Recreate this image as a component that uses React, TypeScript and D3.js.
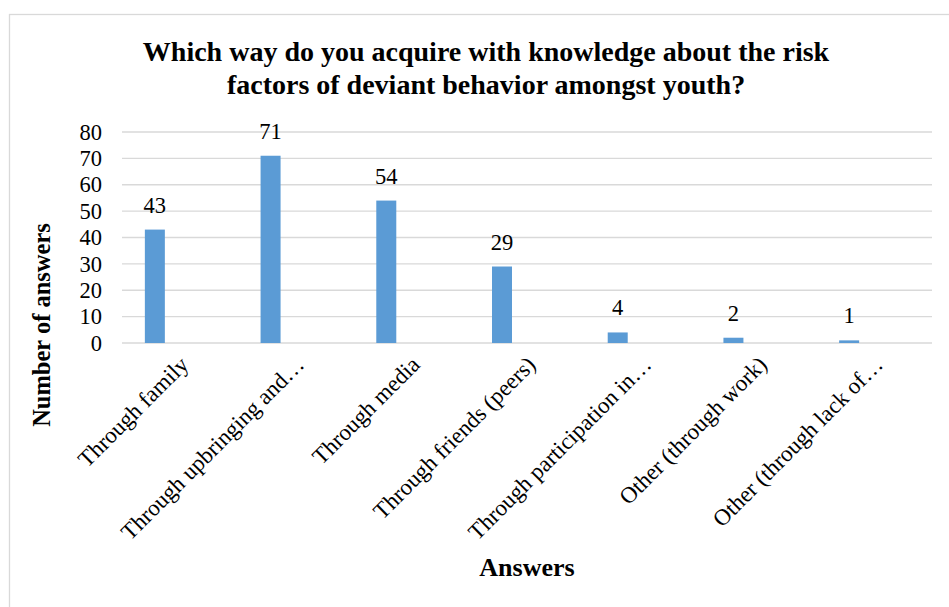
import React from "react";
import * as d3 from "d3";

const categories = [
  "Through family",
  "Through upbringing and…",
  "Through media",
  "Through friends (peers)",
  "Through participation in…",
  "Other (through work)",
  "Other (through lack of…",
];
const values = [43, 71, 54, 29, 4, 2, 1];
const yTicks = [0, 10, 20, 30, 40, 50, 60, 70, 80];
const titleLines = [
  "Which way do you acquire with knowledge about the risk",
  "factors of deviant behavior amongst youth?",
];

const W = 949;
const H = 607;
const plot = { left: 122, right: 932, top: 132, bottom: 343 };
const FONT = "Liberation Serif, Times New Roman, serif";

function T({ x, y, children, anchor = "middle", size, weight = "normal", rot = 0, dy = "0" }: any) {
  return (
    <text
      transform={`translate(${x},${y})${rot ? ` rotate(${rot})` : ""}`}
      textAnchor={anchor}
      dy={dy}
      fontFamily={FONT}
      fontWeight={weight}
      fontSize={size}
      fill="#000"
    >
      {children}
    </text>
  );
}

export default function App() {
  const x = d3
    .scaleBand<string>()
    .domain(categories)
    .range([plot.left, plot.right])
    .padding(0);
  const y = d3.scaleLinear().domain([0, 80]).range([plot.bottom, plot.top]);
  const barW = 20;
  const offset = -25;

  return (
    <svg
      width={W}
      height={H}
      style={{ position: "absolute", left: 0, top: 0, background: "#fff" }}
    >
      <rect x={9.5} y={14.5} width={W} height={H} fill="#fff" stroke="#d9d9d9" strokeWidth={1.3} />
      {titleLines.map((t, i) => (
        <T key={i} x={486} y={61 + i * 33} size={28} weight="bold">
          {t}
        </T>
      ))}
      {yTicks.map((t) => (
        <g key={t}>
          <line
            x1={plot.left}
            x2={plot.right}
            y1={y(t)}
            y2={y(t)}
            stroke="#d9d9d9"
            strokeWidth={1.3}
          />
          <T x={102} y={y(t)} dy="0.34em" anchor="end" size={22.5}>
            {t}
          </T>
        </g>
      ))}
      {categories.map((c, i) => {
        const cx = (x(c) as number) + x.bandwidth() / 2;
        const bx = cx + offset;
        return (
          <g key={c}>
            <rect
              x={bx - barW / 2}
              y={y(values[i])}
              width={barW}
              height={y(0) - y(values[i])}
              fill="#5B9BD5"
            />
            <T x={bx} y={y(values[i]) - 17} size={22.5}>
              {values[i]}
            </T>
            <T x={cx + 10} y={366} anchor="end" size={23} rot={-45}>
              {c}
            </T>
          </g>
        );
      })}
      <T x={50} y={325} size={24.5} weight="bold" rot={-90}>
        Number of answers
      </T>
      <T x={527} y={576} size={26} weight="bold">
        Answers
      </T>
    </svg>
  );
}
